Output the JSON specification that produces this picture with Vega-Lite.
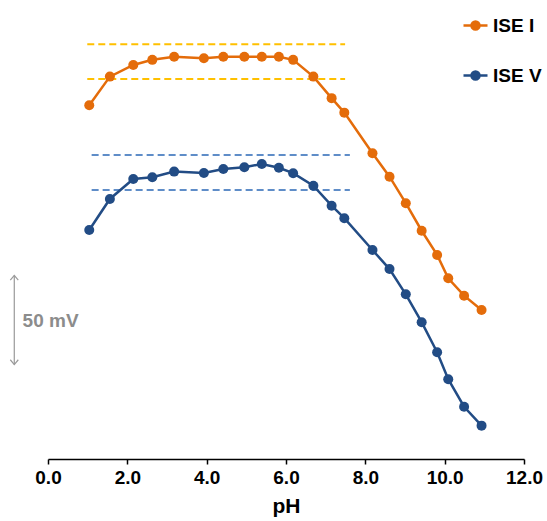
{
  "$schema": "https://vega.github.io/schema/vega-lite/v6.json",
  "width": 476,
  "height": 459,
  "autosize": {"type": "none"},
  "padding": {"left": 48, "top": 0, "right": 23, "bottom": 62},
  "config": {"view": {"stroke": null}, "font": "Liberation Sans"},
  "datasets": {
    "curves": [
      {"series": "ISE I", "pH": 1.04, "mV": 200.4},
      {"series": "ISE I", "pH": 1.56, "mV": 216.6},
      {"series": "ISE I", "pH": 2.15, "mV": 223.2},
      {"series": "ISE I", "pH": 2.63, "mV": 226.1},
      {"series": "ISE I", "pH": 3.18, "mV": 227.9},
      {"series": "ISE I", "pH": 3.93, "mV": 227.0},
      {"series": "ISE I", "pH": 4.42, "mV": 227.9},
      {"series": "ISE I", "pH": 4.95, "mV": 227.9},
      {"series": "ISE I", "pH": 5.39, "mV": 227.9},
      {"series": "ISE I", "pH": 5.82, "mV": 227.9},
      {"series": "ISE I", "pH": 6.18, "mV": 226.1},
      {"series": "ISE I", "pH": 6.69, "mV": 216.6},
      {"series": "ISE I", "pH": 7.15, "mV": 204.4},
      {"series": "ISE I", "pH": 7.47, "mV": 196.2},
      {"series": "ISE I", "pH": 8.18, "mV": 173.2},
      {"series": "ISE I", "pH": 8.61, "mV": 159.9},
      {"series": "ISE I", "pH": 9.02, "mV": 144.9},
      {"series": "ISE I", "pH": 9.42, "mV": 129.3},
      {"series": "ISE I", "pH": 9.81, "mV": 115.6},
      {"series": "ISE I", "pH": 10.09, "mV": 102.4},
      {"series": "ISE I", "pH": 10.49, "mV": 92.5},
      {"series": "ISE I", "pH": 10.93, "mV": 84.4},
      {"series": "ISE V", "pH": 1.04, "mV": 129.7},
      {"series": "ISE V", "pH": 1.56, "mV": 147.3},
      {"series": "ISE V", "pH": 2.15, "mV": 158.6},
      {"series": "ISE V", "pH": 2.63, "mV": 159.6},
      {"series": "ISE V", "pH": 3.18, "mV": 162.8},
      {"series": "ISE V", "pH": 3.93, "mV": 162.0},
      {"series": "ISE V", "pH": 4.42, "mV": 164.3},
      {"series": "ISE V", "pH": 4.95, "mV": 165.3},
      {"series": "ISE V", "pH": 5.39, "mV": 167.1},
      {"series": "ISE V", "pH": 5.82, "mV": 165.0},
      {"series": "ISE V", "pH": 6.18, "mV": 161.9},
      {"series": "ISE V", "pH": 6.69, "mV": 154.8},
      {"series": "ISE V", "pH": 7.15, "mV": 143.5},
      {"series": "ISE V", "pH": 7.47, "mV": 136.4},
      {"series": "ISE V", "pH": 8.18, "mV": 118.4},
      {"series": "ISE V", "pH": 8.61, "mV": 107.6},
      {"series": "ISE V", "pH": 9.02, "mV": 93.3},
      {"series": "ISE V", "pH": 9.42, "mV": 77.5},
      {"series": "ISE V", "pH": 9.81, "mV": 60.5},
      {"series": "ISE V", "pH": 10.09, "mV": 45.2},
      {"series": "ISE V", "pH": 10.49, "mV": 29.6},
      {"series": "ISE V", "pH": 10.93, "mV": 18.9}
    ],
    "bands": [
      {"band": "I", "start": 0.99, "end": 7.49, "mV": 235.0},
      {"band": "I", "start": 0.99, "end": 7.49, "mV": 215.3},
      {"band": "V", "start": 1.1, "end": 7.61, "mV": 172.2},
      {"band": "V", "start": 1.1, "end": 7.61, "mV": 152.4}
    ],
    "scalebar": [{"pH": -0.85, "top": 104, "bottom": 53.5, "label": "50 mV", "labelpH": -0.64, "labelmV": 78.2}],
    "heads": [
      {"pH": -0.85, "mV": 104, "dir": "up"},
      {"pH": -0.85, "mV": 53.5, "dir": "down"}
    ]
  },
  "layer": [
    {
      "data": {"name": "bands"},
      "mark": {"type": "rule", "strokeDash": [7, 4], "strokeWidth": 2},
      "encoding": {
        "x": {"field": "start", "type": "quantitative", "scale": {"domain": [0, 12], "nice": false}, "axis": {"orient": "bottom", "values": [0, 2, 4, 6, 8, 10, 12], "format": ".1f", "grid": false, "labelFlush": false, "labelFontSize": 19, "labelFontWeight": "bold", "labelColor": "#000000", "labelPadding": 4, "tickSize": 5, "tickColor": "#000000", "domainColor": "#000000", "domainWidth": 1.5, "tickWidth": 1.5, "title": "pH", "titleFontSize": 21, "titleFontWeight": "bold", "titleColor": "#000000", "titlePadding": 8}},
        "x2": {"field": "end"},
        "y": {"field": "mV", "type": "quantitative", "scale": {"domain": [0, 260], "nice": false, "zero": false}, "axis": null},
        "stroke": {"field": "band", "type": "nominal", "scale": {"domain": ["I", "V"], "range": ["#FFC000", "#5F8DC8"]}, "legend": null}
      }
    },
    {
      "data": {"name": "curves"},
      "mark": {"type": "line", "strokeWidth": 2.5},
      "encoding": {
        "x": {"field": "pH", "type": "quantitative"},
        "y": {"field": "mV", "type": "quantitative"},
        "color": {"field": "series", "type": "nominal", "scale": {"domain": ["ISE I", "ISE V"], "range": ["#E46C0A", "#224C85"]},
          "legend": {"orient": "none", "legendX": 414, "legendY": 12, "title": null, "padding": 0, "labelFontSize": 19, "labelFontWeight": "bold", "labelColor": "#000000", "labelOffset": 4, "rowPadding": 26, "symbolType": "M-1,0H1M-0.333,0A0.333,0.333,0,1,1,0.333,0A0.333,0.333,0,1,1,-0.333,0Z", "symbolSize": 576, "symbolStrokeWidth": 2.5,
            "encode": {"symbols": {"update": {"fill": {"scale": "color", "field": "value"}, "fillOpacity": {"value": 1}}}}}}
      }
    },
    {
      "data": {"name": "curves"},
      "mark": {"type": "point", "filled": true, "size": 100, "opacity": 1},
      "encoding": {
        "x": {"field": "pH", "type": "quantitative"},
        "y": {"field": "mV", "type": "quantitative"},
        "color": {"field": "series", "type": "nominal"}
      }
    },
    {
      "data": {"name": "scalebar"},
      "mark": {"type": "rule", "color": "#9A9A9A", "strokeWidth": 1.2},
      "encoding": {
        "x": {"field": "pH", "type": "quantitative"},
        "y": {"field": "top", "type": "quantitative"},
        "y2": {"field": "bottom"}
      }
    },
    {
      "data": {"name": "heads"},
      "mark": {"type": "point", "filled": false, "stroke": "#9A9A9A", "strokeWidth": 1.2, "size": 64, "opacity": 1},
      "encoding": {
        "x": {"field": "pH", "type": "quantitative"},
        "y": {"field": "mV", "type": "quantitative"},
        "shape": {"field": "dir", "type": "nominal", "scale": {"domain": ["up", "down"], "range": ["M-1,1.2L0,0L1,1.2", "M-1,-1.2L0,0L1,-1.2"]}, "legend": null}
      }
    },
    {
      "data": {"name": "scalebar"},
      "mark": {"type": "text", "align": "left", "baseline": "middle", "fontSize": 19, "fontWeight": "bold", "color": "#8C8C8C"},
      "encoding": {
        "x": {"field": "labelpH", "type": "quantitative"},
        "y": {"field": "labelmV", "type": "quantitative"},
        "text": {"field": "label"}
      }
    }
  ]
}
